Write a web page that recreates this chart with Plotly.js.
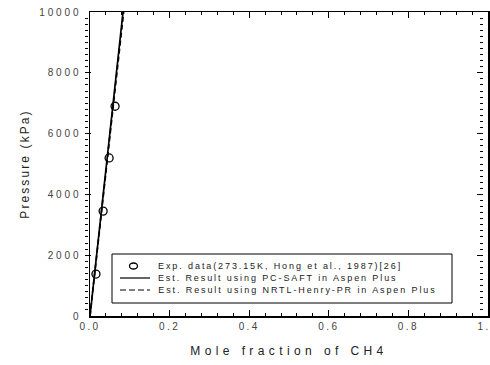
<!DOCTYPE html>
<html><head><meta charset="utf-8">
<script src="https://cdn.plot.ly/plotly-3.0.1.min.js"></script>
<style>body{margin:0;background:#fff}</style>
</head><body>
<div id="plot" style="width:490px;height:365px"></div>
<script>
const expX = [0.015, 0.033, 0.048, 0.063];
const expP = [1380, 3450, 5200, 6900];
const pcsaftX = [0, 0.02, 0.04, 0.06, 0.083];
const pcsaftP = [0, 2420, 4830, 7240, 10000];
const nrtlX = [0, 0.021, 0.042, 0.063, 0.0845];
const nrtlP = [0, 2480, 4970, 7460, 10000];
const xTicks = [0, 0.2, 0.4, 0.6, 0.8, 1.0];
const xTickText = ['0.0', '0.2', '0.4', '0.6', '0.8', '1.0'];
const yTicks = [0, 2000, 4000, 6000, 8000, 10000];
const yTickText = ['0', '2000', '4000', '6000', '8000', '10000'];
const legendNames = ['Exp. data(273.15K, Hong et al., 1987)[26]',
  'Est. Result using PC-SAFT in Aspen Plus',
  'Est. Result using NRTL-Henry-PR in Aspen Plus'];

const FONT = 'Liberation Sans, Arial, sans-serif';
const LEG_LS = 1.9;
const traces = [
  {x: expX, y: expP, mode: 'markers', name: legendNames[0],
   marker: {symbol: 'circle-open', size: 8, color: '#000', line: {width: 1.3, color: '#000'}}},
  {x: pcsaftX, y: pcsaftP, mode: 'lines', name: legendNames[1],
   line: {color: '#000', width: 1.7}},
  {x: nrtlX, y: nrtlP, mode: 'lines', name: legendNames[2],
   line: {color: '#000', width: 1.7, dash: '5px,3px'}}
];

const axisCommon = {
  showline: true, linecolor: '#000', linewidth: 1.5, mirror: 'allticks',
  ticks: 'inside', ticklen: 6, tickwidth: 1, tickcolor: '#000',
  showgrid: false, zeroline: false, ticklabeloverflow: 'allow',
  tickfont: {family: FONT, size: 10, color: '#444'}
};

// custom legend (paper coords: plot area x 90..488, y 12..316)
const px = v => (v - 90) / 398;
const py = v => (316 - v) / 304;
const rowY = [266, 278, 290];
const shapes = [
  {type: 'rect', xref: 'paper', yref: 'paper', x0: px(112), x1: px(452), y0: py(303), y1: py(254),
   line: {color: '#000', width: 1}, fillcolor: '#fff', layer: 'above'},
  {type: 'circle', xref: 'paper', yref: 'paper', x0: px(129.5), x1: px(137.5), y0: py(269), y1: py(263),
   line: {color: '#000', width: 1.3}, layer: 'above'},
  {type: 'line', xref: 'paper', yref: 'paper', x0: px(120), x1: px(150), y0: py(rowY[1]), y1: py(rowY[1]),
   line: {color: '#000', width: 1.2}, layer: 'above'},
  {type: 'line', xref: 'paper', yref: 'paper', x0: px(120), x1: px(150), y0: py(rowY[2]), y1: py(rowY[2]),
   line: {color: '#000', width: 1.2, dash: '6px,3px'}, layer: 'above'}
];
const annotations = legendNames.map((t, i) => ({
  xref: 'paper', yref: 'paper', x: px(156 + t.length * LEG_LS / 2), y: py(rowY[i]),
  xanchor: 'left', yanchor: 'middle',
  text: t, showarrow: false, font: {family: FONT, size: 9, color: '#222'}
}));

const layout = {
  width: 490, height: 365,
  margin: {l: 90, r: 2, t: 12, b: 49},
  paper_bgcolor: '#fff', plot_bgcolor: '#fff',
  showlegend: false,
  shapes: shapes, annotations: annotations,
  xaxis: Object.assign({}, axisCommon, {
    range: [0, 1], tickvals: xTicks, ticktext: xTickText,
    minor: {dtick: 0.04, ticks: 'inside', ticklen: 3, tickcolor: '#000', showgrid: false},
    title: {text: 'Mole fraction of CH4', standoff: 16,
      font: {family: FONT, size: 12, color: '#222'}}
  }),
  yaxis: Object.assign({}, axisCommon, {
    range: [0, 10000], tickvals: yTicks, ticktext: yTickText,
    minor: {dtick: 200, ticks: 'inside', ticklen: 3, tickcolor: '#000', showgrid: false},
    title: {text: 'Pressure (kPa)', standoff: 26,
      font: {family: FONT, size: 12, color: '#222'}}
  })
};

Plotly.newPlot('plot', traces, layout, {displayModeBar: false, staticPlot: true}).then(gd => {
  gd.querySelectorAll('.xtick text').forEach(t => t.style.letterSpacing = '2.4px');
  gd.querySelectorAll('.ytick text').forEach(t => t.style.letterSpacing = '2.9px');
  gd.querySelectorAll('.yaxislayer-above').forEach(g => g.style.transform = 'translate(-5px,0px)');
  gd.querySelectorAll('.g-xtitle text').forEach(t => t.style.letterSpacing = '4.4px');
  gd.querySelectorAll('.g-ytitle text').forEach(t => t.style.letterSpacing = '2.1px');
  gd.querySelectorAll('.annotation-text').forEach(t => t.style.letterSpacing = LEG_LS + 'px');
});
</script>
</body></html>
